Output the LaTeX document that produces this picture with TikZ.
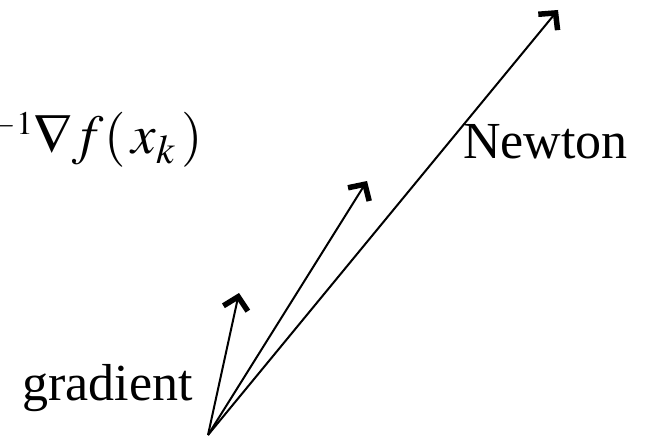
\documentclass[tikz,border=0pt]{standalone}
\usepackage{mathptmx}
\usepackage[no-math]{fontspec}
\setmainfont{Liberation Serif}
\usetikzlibrary{positioning, arrows.meta, calc}

\begin{document}
\begin{tikzpicture}[x=1pt, y=-1pt, >={Straight Barb[length=12pt,width=25pt,line width=5.5pt]},
	vettore/.style={line width=2pt, ->},
	etich/.style={inner sep=0pt, font=\fontsize{52}{60}\selectfont}]
			\useasboundingbox (0,0) rectangle (647,438);
			
			% Origine e punte
			\coordinate (o) at (208,435);
			\coordinate (grad) at (239,293);
			\coordinate (mid) at (367,181);
			\coordinate (newt) at (558,10);
			
			% Vettori
			\draw[vettore] (o) -- (grad);
			\draw[vettore] (o) -- (mid);
			\draw[vettore] (o) -- (newt);
			
			% Etichette
			\node[etich, anchor=base east, font=\fontsize{55}{64}\selectfont] (dir) at (203,154)
				{${}^{\scriptscriptstyle -1}\nabla f(\,x_{k}\,)$};
			\node[etich, anchor=base west] (newtlbl) at (463,159) {Newton};
			\node[etich, anchor=base west] (gradlbl) at (22,400) {gradient};
		\end{tikzpicture}
\end{document}
